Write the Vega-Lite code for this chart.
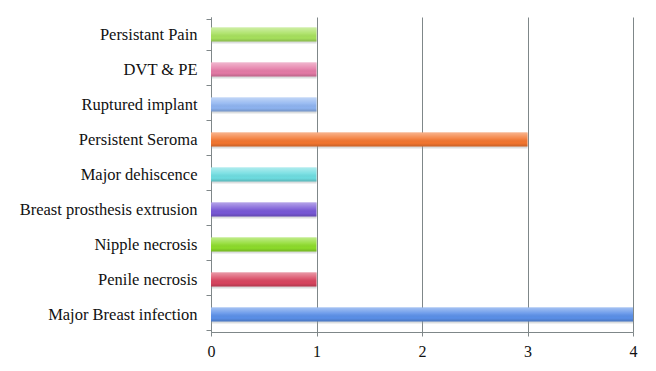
{
  "$schema": "https://vega.github.io/schema/vega-lite/v6.json",
  "autosize": "none",
  "padding": {"left": 211, "top": 17, "right": 23, "bottom": 39},
  "width": 422,
  "height": 315,
  "background": "white",
  "config": {"view": {"stroke": null}},
  "data": {"values": [
    {"complication": "Persistant Pain", "count": 1, "color": "#a6e05c"},
    {"complication": "DVT & PE", "count": 1, "color": "#e47aa6"},
    {"complication": "Ruptured implant", "count": 1, "color": "#8db3f0"},
    {"complication": "Persistent Seroma", "count": 3, "color": "#f37630"},
    {"complication": "Major dehiscence", "count": 1, "color": "#6ddce0"},
    {"complication": "Breast prosthesis extrusion", "count": 1, "color": "#7858d6"},
    {"complication": "Nipple necrosis", "count": 1, "color": "#8cdb2a"},
    {"complication": "Penile necrosis", "count": 1, "color": "#d8455f"},
    {"complication": "Major Breast infection", "count": 4, "color": "#5a8fe8"}
  ]},
  "encoding": {
    "y": {
      "field": "complication", "type": "nominal", "sort": null, "title": null,
      "axis": {
        "tickBand": "extent", "domainColor": "#7f8789", "tickColor": "#7f8789",
        "tickSize": 5, "labelPadding": 9, "labelFont": "Liberation Serif",
        "labelFontSize": 16.5, "labelColor": "#111", "grid": false
      }
    },
    "x": {
      "field": "count", "type": "quantitative", "title": null,
      "scale": {"domain": [0, 4], "nice": false},
      "axis": {
        "values": [0, 1, 2, 3, 4], "format": "d", "grid": true, "labelFlush": false,
        "gridColor": "#7f8789", "gridOpacity": 1, "domainColor": "#7f8789",
        "tickColor": "#7f8789", "tickSize": 4, "labelPadding": 7,
        "labelFont": "Liberation Serif", "labelFontSize": 16, "labelColor": "#111"
      }
    }
  },
  "layer": [
    {
      "mark": {"type": "bar", "size": 14, "yOffset": 2, "color": "#9aa0a2", "opacity": 0.35},
      "encoding": {}
    },
    {
      "mark": {"type": "bar", "size": 14},
      "encoding": {"color": {"field": "color", "type": "nominal", "scale": null}}
    },
    {
      "mark": {
        "type": "bar", "size": 14,
        "color": {
          "gradient": "linear", "x1": 0, "y1": 0, "x2": 0, "y2": 1,
          "stops": [
            {"offset": 0, "color": "rgba(255,255,255,0.45)"},
            {"offset": 0.45, "color": "rgba(255,255,255,0.1)"},
            {"offset": 0.75, "color": "rgba(0,0,0,0)"},
            {"offset": 1, "color": "rgba(0,0,0,0.18)"}
          ]
        }
      },
      "encoding": {}
    }
  ]
}
